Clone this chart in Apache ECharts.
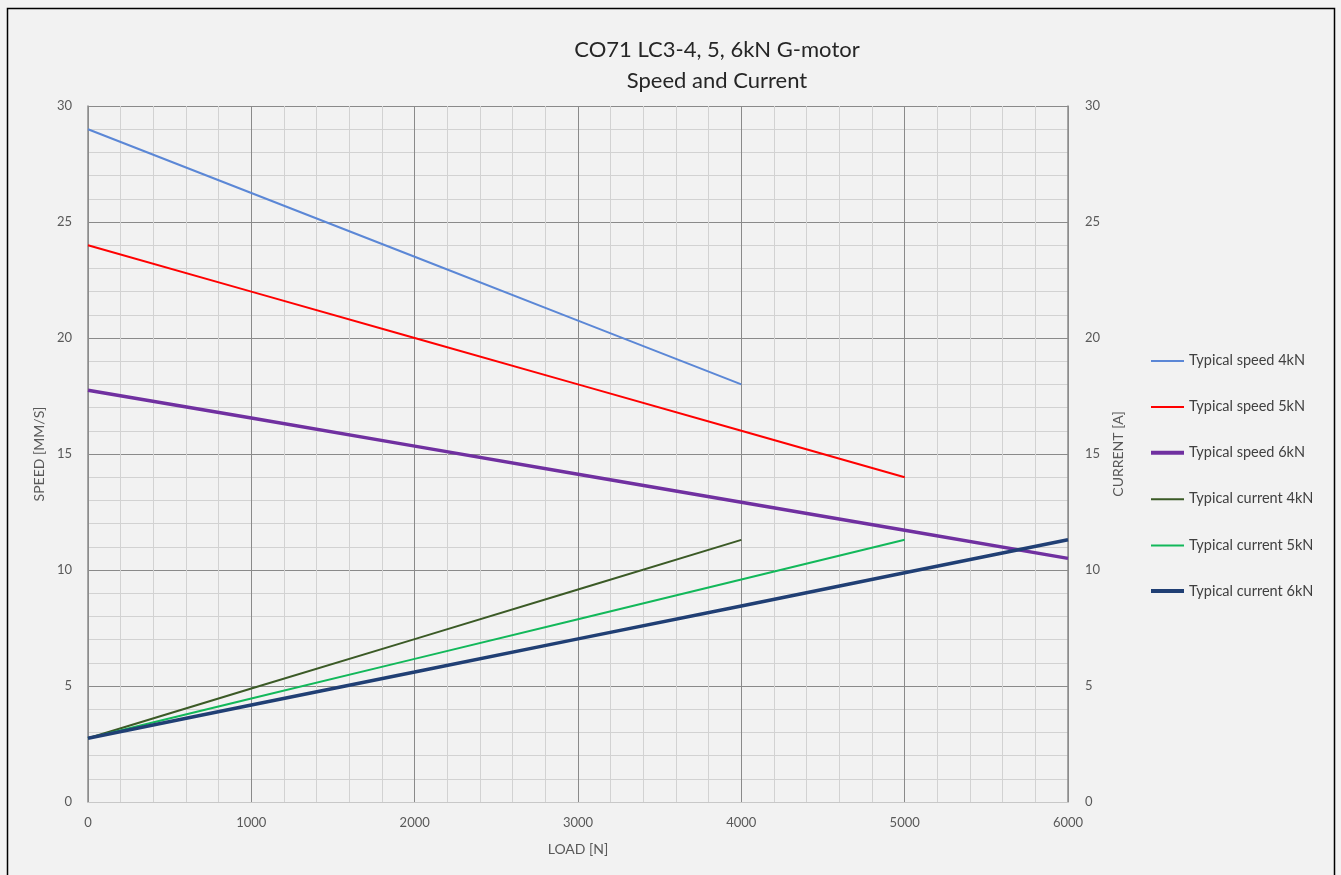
<!DOCTYPE html>
<html>
<head>
<meta charset="utf-8">
<script src="https://cdn.jsdelivr.net/npm/echarts@6/dist/echarts.min.js"></script>
<style>
html,body{margin:0;padding:0;background:#fff;}
#chart{width:1341px;height:875px;}
</style>
</head>
<body>
<div id="chart"></div>
<script>
const loads = [0, 1000, 2000, 3000, 4000, 5000, 6000];
const speed4kN = [29, 26.25, 23.5, 20.75, 18];
const speed5kN = [24, 22, 20, 18, 16, 14];
const speed6kN = [17.75, 16.55, 15.34, 14.13, 12.92, 11.71, 10.5];
const current4kN = [2.75, 4.89, 7.02, 9.16, 11.3];
const current5kN = [2.75, 4.46, 6.17, 7.88, 9.59, 11.3];
const current6kN = [2.75, 4.18, 5.6, 7.03, 8.45, 9.88, 11.3];
const seriesNames = ['Typical speed 4kN','Typical speed 5kN','Typical speed 6kN','Typical current 4kN','Typical current 5kN','Typical current 6kN'];
const xTicks = [0, 6000, 1000];
const yTicks = [0, 30, 5];

function pairs(vals){ return vals.map((v,i)=>[loads[i], v]); }

const FONT = 'Lato, "Open Sans", sans-serif';
const txt = '#595959';
const chart = echarts.init(document.getElementById('chart'), null, {renderer:'canvas'});

const styles = [
  {c:'#5b87d6', w:2, axis:0, d:speed4kN},
  {c:'#ff0000', w:2, axis:0, d:speed5kN},
  {c:'#7030a0', w:3.5, axis:0, d:speed6kN},
  {c:'#3b5a26', w:2, axis:1, d:current4kN},
  {c:'#12b85a', w:2, axis:1, d:current5kN},
  {c:'#203f74', w:3.5, axis:1, d:current6kN}
];

const thinIcon = 'path://M0,0H33V0.01H0Z M0,1H33V3H0Z';
const thickIcon = 'path://M0,0H33V4H0Z';

function yAxisCfg(pos, name){
  return {
    type:'value', position:pos, min:yTicks[0], max:yTicks[1], interval:yTicks[2],
    name:name, nameLocation:'middle', nameGap: pos==='left'?37:43, nameRotate:90,
    nameTextStyle:{color:txt, fontSize:14, fontFamily:FONT},
    axisLine:{show:true, lineStyle:{color:'#8c8c8c', width:1.5}},
    axisTick:{show:false},
    axisLabel:{color:txt, fontSize:13, fontFamily:FONT, margin: pos==='left'?16:17},
    splitLine:{show: pos==='left', lineStyle:{color:'#8a8a8a', width:1}},
    minorTick:{show:false, splitNumber:5},
    minorSplitLine:{show: pos==='left', lineStyle:{color:'#d2d2d2', width:1}}
  };
}

const option = {
  backgroundColor:'#f2f2f2',
  animation:false,
  title:{
    text:'CO71 LC3-4, 5, 6kN G-motor\nSpeed and Current',
    left:712, top:29, textAlign:'center',
    textStyle:{fontFamily:FONT, fontSize:22, fontWeight:'normal', color:'#262626', lineHeight:31}
  },
  graphic:[{
    type:'rect', shape:{x:7.5, y:8.5, width:1327, height:870},
    style:{fill:'none', stroke:'#000', lineWidth:1.5}, silent:true
  }],
  legend:{
    orient:'vertical', left:1151, top:353, itemGap:31.1, itemWidth:33, itemHeight:4, padding:0,
    textStyle:{color:'#404040', fontSize:14.5, fontFamily:FONT},
    data:seriesNames.map((n,i)=>({name:n, icon: styles[i].w > 3 ? thickIcon : thinIcon}))
  },
  grid:{left:88, right:273, top:106, bottom:73},
  xAxis:{
    type:'value', min:xTicks[0], max:xTicks[1], interval:xTicks[2],
    name:'LOAD [N]', nameLocation:'middle', nameGap:40,
    nameTextStyle:{color:txt, fontSize:14, fontFamily:FONT},
    axisLine:{show:true, lineStyle:{color:'#c8c8c8', width:1}},
    axisTick:{show:false},
    axisLabel:{color:txt, fontSize:13, fontFamily:FONT, margin:14, formatter:(v)=>String(v)},
    splitLine:{show:true, lineStyle:{color:'#8a8a8a', width:1}},
    minorTick:{show:false, splitNumber:5},
    minorSplitLine:{show:true, lineStyle:{color:'#d2d2d2', width:1}}
  },
  yAxis:[yAxisCfg('left','SPEED [MM/S]'), yAxisCfg('right','CURRENT [A]')],
  series: styles.map((s,i)=>({
    name:seriesNames[i], type:'line', yAxisIndex:s.axis, data:pairs(s.d),
    showSymbol:false, symbol:'none', color:s.c,
    lineStyle:{color:s.c, width:s.w}
  }))
};
chart.setOption(option);
</script>
</body>
</html>
